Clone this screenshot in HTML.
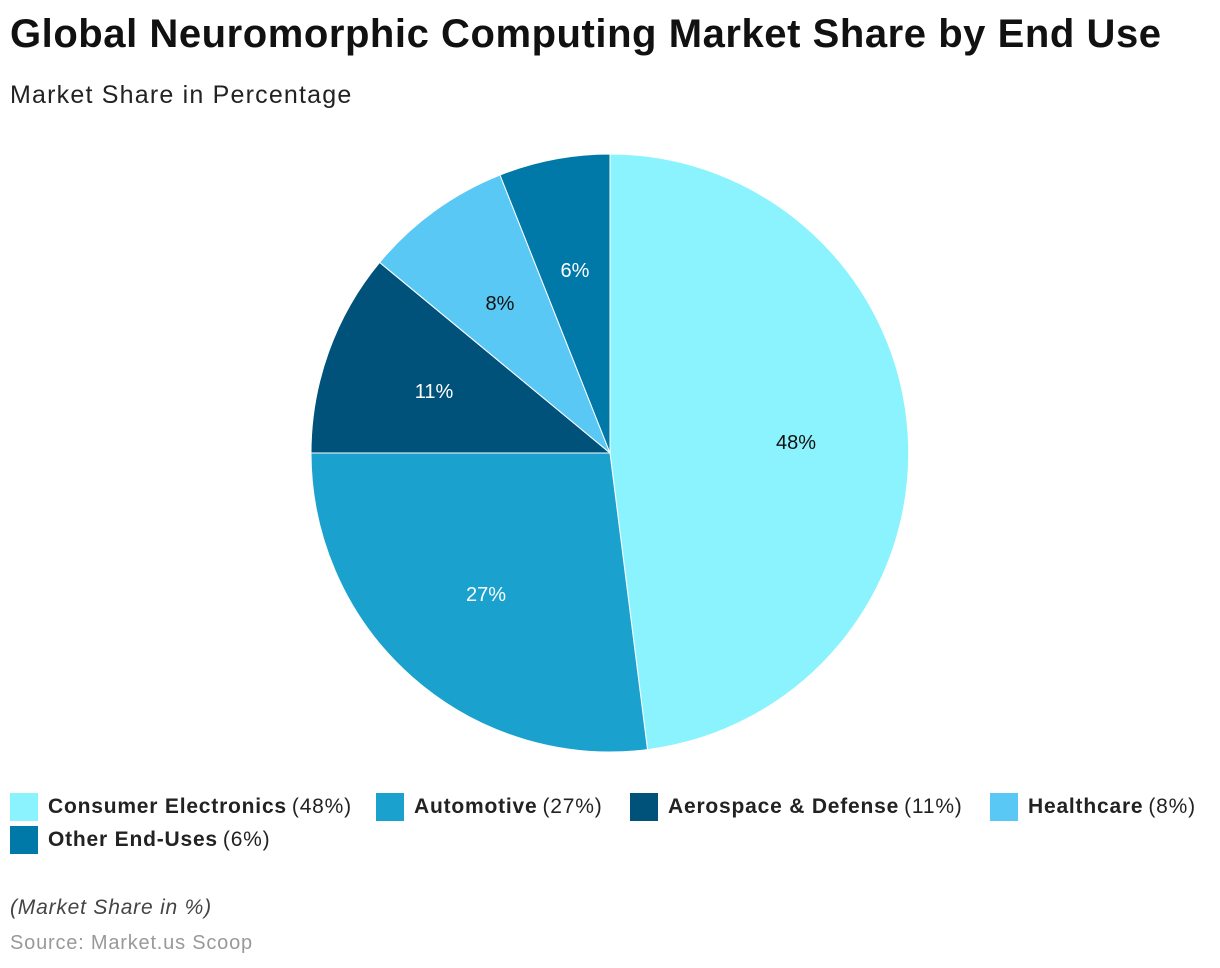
<!DOCTYPE html>
<html><head><meta charset="utf-8"><style>
body{margin:0;width:1220px;height:968px;background:#fff;font-family:"Liberation Sans",Arial,sans-serif;position:relative;overflow:hidden}
.t{position:absolute;left:10px;top:12px;font-size:40px;font-weight:bold;color:#111;letter-spacing:0.55px}
.s{position:absolute;left:10px;top:81px;font-size:25px;color:#222;letter-spacing:1.2px}
.lg{position:absolute;font-size:21px;color:#222;display:flex;align-items:center;white-space:nowrap;letter-spacing:0.8px}
.lg i{display:inline-block;width:28px;height:28px;margin-right:10px}
.lg b{margin-right:5px}
.f{position:absolute;left:10px;top:896px;font-size:21px;font-style:italic;color:#444;letter-spacing:0.8px}
.src{position:absolute;left:10px;top:932px;font-size:20px;color:#999;letter-spacing:0.8px}
</style></head><body>
<div class="t">Global Neuromorphic Computing Market Share by End Use</div>
<div class="s">Market Share in Percentage</div>
<svg width="1220" height="968" style="position:absolute;left:0;top:0">
<g stroke="#fff" stroke-width="1">
<path d="M610,453 L610,154 A299,299 0 0 1 647.5,749.6 Z" fill="#8AF3FD"/>
<path d="M610,453 L647.5,749.6 A299,299 0 0 1 311,453 Z" fill="#1AA1CE"/>
<path d="M610,453 L311,453 A299,299 0 0 1 379.6,262.4 Z" fill="#00527A"/>
<path d="M610,453 L379.6,262.4 A299,299 0 0 1 500,175 Z" fill="#5AC8F5"/>
<path d="M610,453 L500,175 A299,299 0 0 1 610,154 Z" fill="#0179A8"/>
</g>
<g font-family="Liberation Sans,Arial,sans-serif" font-size="20" text-anchor="middle">
<text x="796" y="449" fill="#111">48%</text>
<text x="486" y="601" fill="#fff">27%</text>
<text x="434" y="398" fill="#fff">11%</text>
<text x="500" y="310" fill="#111">8%</text>
<text x="575" y="277" fill="#fff">6%</text>
</g>
</svg>
<div class="lg" style="left:10px;top:793px"><i style="background:#8AF3FD"></i><b>Consumer Electronics</b>(48%)</div>
<div class="lg" style="left:376px;top:793px"><i style="background:#1AA1CE"></i><b>Automotive</b>(27%)</div>
<div class="lg" style="left:630px;top:793px"><i style="background:#00527A"></i><b>Aerospace &amp; Defense</b>(11%)</div>
<div class="lg" style="left:990px;top:793px"><i style="background:#5AC8F5"></i><b>Healthcare</b>(8%)</div>
<div class="lg" style="left:10px;top:826px"><i style="background:#0179A8"></i><b>Other End-Uses</b>(6%)</div>
<div class="f">(Market Share in %)</div>
<div class="src">Source: Market.us Scoop</div>
</body></html>
